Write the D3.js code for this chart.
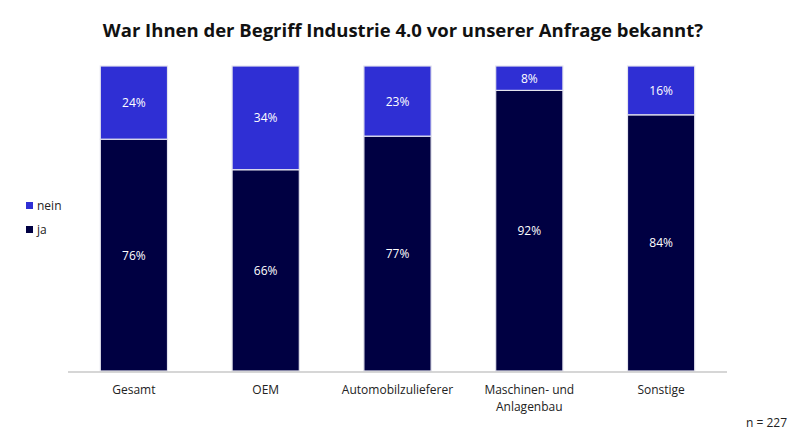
<!DOCTYPE html>
<html>
<head>
<meta charset="utf-8">
<script src="https://cdnjs.cloudflare.com/ajax/libs/d3/7.8.5/d3.min.js"></script>
<style>
  body { margin: 0; background: #fff; }
  svg text { font-family: "Open Sans", "Noto Sans", sans-serif; }
</style>
</head>
<body>
<svg id="chart" width="800" height="435"></svg>
<script>
// categories and values (percent)
var categories = ['Gesamt', 'OEM', 'Automobilzulieferer', 'Maschinen- und|Anlagenbau', 'Sonstige'];
var ja = [76, 66, 77, 92, 84];
var nein = [24, 34, 23, 8, 16];
var seriesNames = ['nein', 'ja'];

var colors = {
    'ja': '#000042',
    'nein': '#2f2fd4'
};

var svg = d3.select('#chart');

// title
svg.append('text')
    .attr('x', 403)
    .attr('y', 37)
    .attr('text-anchor', 'middle')
    .attr('font-size', '18.5px')
    .attr('font-weight', 'bold')
    .attr('fill', '#111')
    .text('War Ihnen der Begriff Industrie 4.0 vor unserer Anfrage bekannt?');

var x = d3.scaleBand()
    .domain(categories)
    .range([68, 727])
    .paddingInner(0.49)
    .paddingOuter(0.245);

var y = d3.scaleLinear()
    .domain([0, 100])
    .range([371, 66]);

// stack data
var rows = categories.map(function(c, i){
    return {cat: c, ja: ja[i], nein: nein[i]};
});
var stack = d3.stack().keys(['ja', 'nein'])(rows);

var g = svg.append('g');

stack.forEach(function(layer){
    var key = layer.key;
    g.selectAll('rect.' + key)
        .data(layer)
        .enter().append('rect')
            .attr('class', key)
            .attr('x', function(d){ return x(d.data.cat); })
            .attr('y', function(d){ return y(d[1]); })
            .attr('width', x.bandwidth())
            .attr('height', function(d){ return y(d[0]) - y(d[1]); })
            .attr('fill', colors[key])
            .attr('stroke', '#e4e4ee')
            .attr('stroke-width', 1.2);

    g.selectAll('text.' + key)
        .data(layer)
        .enter().append('text')
            .attr('x', function(d){ return x(d.data.cat) + x.bandwidth() / 2; })
            .attr('y', function(d){ return (y(d[0]) + y(d[1])) / 2 + 4.5; })
            .attr('text-anchor', 'middle')
            .attr('font-size', '12px')
            .attr('fill', '#fff')
            .text(function(d){ return (d[1] - d[0]) + '%'; });
});

// baseline
svg.append('line')
    .attr('x1', 68).attr('x2', 727)
    .attr('y1', 372).attr('y2', 372)
    .attr('stroke', '#c8c8c8')
    .attr('stroke-width', 1.5);

// category labels
categories.forEach(function(c){
    var lines = c.split('|');
    var t = svg.append('text')
        .attr('text-anchor', 'middle')
        .attr('font-size', '12px')
        .attr('fill', '#222');
    lines.forEach(function(l, i){
        t.append('tspan')
            .attr('x', x(c) + x.bandwidth() / 2)
            .attr('y', 394 + i * 17)
            .text(l);
    });
});

// legend
seriesNames.forEach(function(s, i){
    var ly = 202 + i * 24;
    svg.append('rect')
        .attr('x', 26).attr('y', ly)
        .attr('width', 7).attr('height', 7)
        .attr('fill', colors[s]);
    svg.append('text')
        .attr('x', 37).attr('y', ly + 7.5)
        .attr('font-size', '12px')
        .attr('fill', '#222')
        .text(s);
});

// sample size
svg.append('text')
    .attr('x', 787).attr('y', 427)
    .attr('text-anchor', 'end')
    .attr('font-size', '12px')
    .attr('fill', '#222')
    .text('n = 227');
</script>
</body>
</html>
